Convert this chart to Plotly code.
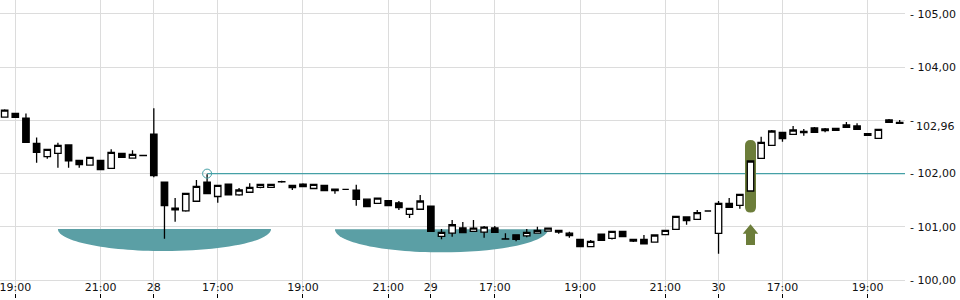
import plotly.graph_objects as go

# ---- data (15-minute candles, sessions joined without gaps) ----
opens = [103.06, 103.13, 103.04, 102.57, 102.32, 102.38, 102.54, 102.25, 102.16, 102.25,
         102.10, 102.38, 102.29, 102.34, 102.74, 101.84, 101.35, 101.30, 101.48, 101.84,
         101.57, 101.80, 101.60, 101.65, 101.74, 101.74, 101.85, 101.735, 101.80, 101.72,
         101.78, 101.71, 101.705, 101.69, 101.52, 101.44, 101.49, 101.45, 101.235, 101.33,
         101.39, 100.82, 100.88, 100.98, 100.915, 100.90, 100.98, 100.775, 100.85, 100.83,
         100.88, 100.92, 100.90, 100.88, 100.765, 100.626, 100.86, 100.784, 100.915, 100.765,
         100.765, 100.714, 100.852, 100.953, 101.184, 101.141, 101.297, 100.878, 101.442, 101.404,
         101.673, 102.288, 102.532, 102.776, 102.739, 102.795, 102.857, 102.838, 102.814, 102.914,
         102.895, 102.750, 102.664, 103.008, 102.964]
highs = [103.21, 103.14, 103.13, 102.68, 102.46, 102.58, 102.54, 102.25, 102.31, 102.25,
         102.46, 102.38, 102.44, 102.344, 103.23, 101.84, 101.54, 101.63, 101.88, 101.99,
         101.78, 101.80, 101.73, 101.82, 101.80, 101.80, 101.866, 101.78, 101.82, 101.80,
         101.78, 101.71, 101.705, 101.79, 101.52, 101.54, 101.50, 101.485, 101.35, 101.60,
         101.39, 100.96, 101.13, 101.09, 101.13, 101.015, 101.015, 100.878, 100.85, 100.96,
         101.00, 100.98, 100.934, 100.908, 100.765, 100.752, 100.86, 100.915, 100.915, 100.765,
         100.846, 100.846, 100.934, 101.197, 101.184, 101.316, 101.297, 101.485, 101.541, 101.611,
         102.237, 102.694, 102.82, 102.776, 102.895, 102.838, 102.876, 102.857, 102.852, 102.97,
         102.945, 102.750, 102.833, 103.026, 103.008]
lows = [103.05, 103.05, 102.588, 102.205, 102.28, 102.111, 102.111, 102.111, 102.15, 102.07,
        102.10, 102.306, 102.288, 102.344, 101.93, 100.776, 101.096, 101.284, 101.479, 101.622,
        101.453, 101.603, 101.585, 101.648, 101.724, 101.743, 101.829, 101.692, 101.754, 101.724,
        101.679, 101.622, 101.705, 101.397, 101.378, 101.442, 101.397, 101.316, 101.165, 101.329,
        100.915, 100.765, 100.814, 100.889, 100.915, 100.795, 100.897, 100.770, 100.727, 100.803,
        100.878, 100.921, 100.870, 100.795, 100.626, 100.626, 100.746, 100.761, 100.814, 100.714,
        100.682, 100.714, 100.852, 100.953, 101.039, 101.141, 101.297, 100.494, 101.367, 101.340,
        101.673, 102.288, 102.532, 102.600, 102.739, 102.712, 102.776, 102.776, 102.814, 102.870,
        102.833, 102.720, 102.664, 102.964, 102.932]
closes = [103.195, 103.058, 102.588, 102.40, 102.457, 102.532, 102.242, 102.167, 102.306, 102.073,
          102.40, 102.306, 102.363, 102.344, 101.961, 101.397, 101.321, 101.63, 101.761, 101.622,
          101.78, 101.603, 101.692, 101.743, 101.799, 101.799, 101.845, 101.78, 101.754, 101.799,
          101.679, 101.679, 101.705, 101.517, 101.378, 101.541, 101.397, 101.359, 101.348, 101.485,
          100.915, 100.897, 101.039, 100.889, 100.977, 100.996, 100.897, 100.770, 100.765, 100.897,
          100.934, 100.977, 100.934, 100.833, 100.626, 100.727, 100.746, 100.915, 100.814, 100.733,
          100.682, 100.846, 100.934, 101.197, 101.115, 101.265, 101.297, 101.442, 101.367, 101.611,
          102.237, 102.588, 102.801, 102.656, 102.820, 102.769, 102.776, 102.806, 102.852, 102.870,
          102.833, 102.720, 102.833, 102.964, 102.945]
candle_index = list(range(len(opens)))

time_tick_pos = [1, 9, 14, 20, 28, 36, 40, 46, 54, 62, 67, 73, 81]
time_tick_text = ["19:00", "21:00", "28", "17:00", "19:00", "21:00", "29",
                  "17:00", "19:00", "21:00", "30", "17:00", "19:00"]

price_ticks = [100, 101, 102, 103, 104, 105]
price_tick_text = ["- 100,00", "- 101,00", "- 102,00", "-", "- 104,00", "- 105,00"]
last_price_text = "102,96"
last_price_label_y = 102.89

level_price = 102.0
level_start = 19

zone_start = [5, 31]
zone_end = [25, 51]
zone_top = [100.96, 100.955]
zone_bottom = [100.545, 100.52]

signal_index = 70
signal_top = 102.63
signal_bottom = 101.27
arrow_tip = 101.05
arrow_neck = 100.87
arrow_base = 100.66

# ---- styles ----
TEAL_ZONE = "#5B9FA5"
TEAL_LINE = "#45A0A6"
OLIVE = "#6C7D3A"
GRID = "#dcdcdc"
FONT = "DejaVu Sans"

fig = go.Figure()

fig.add_trace(go.Candlestick(
    x=candle_index, open=opens, high=highs, low=lows, close=closes,
    increasing=dict(line=dict(color="black", width=1.3), fillcolor="white"),
    decreasing=dict(line=dict(color="black", width=1.3), fillcolor="black"),
    whiskerwidth=0, hoverinfo="skip", showlegend=False,
))

fig.add_trace(go.Scatter(
    x=[level_start], y=[level_price], mode="markers",
    marker=dict(symbol="circle-open", size=9, color=TEAL_LINE, line=dict(width=1)),
    hoverinfo="skip", showlegend=False,
))

shapes = []
K = 0.5523
for x0, x1, yt, yb in zip(zone_start, zone_end, zone_top, zone_bottom):
    cx = (x0 + x1) / 2
    rx = (x1 - x0) / 2
    ry = yt - yb
    path = (f"M {x0},{yt} "
            f"C {x0},{yt - K * ry} {cx - K * rx},{yb} {cx},{yb} "
            f"C {cx + K * rx},{yb} {x1},{yt - K * ry} {x1},{yt} Z")
    shapes.append(dict(type="path", path=path, xref="x", yref="y",
                       fillcolor=TEAL_ZONE, line=dict(width=0), layer="between"))

shapes.append(dict(type="line", xref="x", yref="y", x0=level_start, x1=level_start + 80,
                   y0=level_price, y1=level_price,
                   line=dict(color=TEAL_LINE, width=1.2), layer="between"))

hw = 5.5
r_y = 5.5 / 53.2
pill = (f"M {-hw},{signal_bottom + r_y} L {-hw},{signal_top - r_y} "
        f"Q {-hw},{signal_top} 0,{signal_top} Q {hw},{signal_top} {hw},{signal_top - r_y} "
        f"L {hw},{signal_bottom + r_y} Q {hw},{signal_bottom} 0,{signal_bottom} "
        f"Q {-hw},{signal_bottom} {-hw},{signal_bottom + r_y} Z")
shapes.append(dict(type="path", path=pill, xref="x", yref="y", xsizemode="pixel",
                   xanchor=signal_index, fillcolor=OLIVE, line=dict(width=0), layer="between"))

arrow = (f"M 0,{arrow_tip} L 7.8,{arrow_neck} L 4.5,{arrow_neck} L 4.5,{arrow_base} "
         f"L -4.5,{arrow_base} L -4.5,{arrow_neck} L -7.8,{arrow_neck} Z")
shapes.append(dict(type="path", path=arrow, xref="x", yref="y", xsizemode="pixel",
                   xanchor=signal_index, fillcolor=OLIVE, line=dict(width=0), layer="between"))

fig.update_layout(
    width=960, height=300,
    margin=dict(l=0, r=55, t=0, b=7),
    paper_bgcolor="white", plot_bgcolor="white",
    font=dict(family=FONT, size=11, color="#111"),
    shapes=shapes,
    showlegend=False,
    boxgap=0.14, boxgroupgap=0.3,
    annotations=[dict(text=last_price_text, xref="paper", yref="y", x=1, y=last_price_label_y,
                      xanchor="left", yanchor="middle", xshift=9, showarrow=False,
                      font=dict(family=FONT, size=11, color="#111"))],
)
fig.update_xaxes(
    range=[-0.436, 84.5], tickvals=time_tick_pos, ticktext=time_tick_text,
    ticks="outside", ticklen=4, tickcolor="black", tickwidth=1,
    ticklabelposition="outside", ticklabelstandoff=-20, ticklabeloverflow="allow",
    showgrid=True, gridcolor=GRID, gridwidth=1,
    zeroline=False, showline=False, rangeslider=dict(visible=False),
    tickfont=dict(family=FONT, size=11, color="#111"),
)
fig.update_yaxes(
    side="right", range=[99.756, 105.263], tickvals=price_ticks, ticktext=price_tick_text,
    ticks="", showgrid=True, gridcolor=GRID, gridwidth=1, zeroline=False, showline=False,
    ticklabelstandoff=4,
    tickfont=dict(family=FONT, size=11, color="#111"),
)

fig.write_html("out.html")
